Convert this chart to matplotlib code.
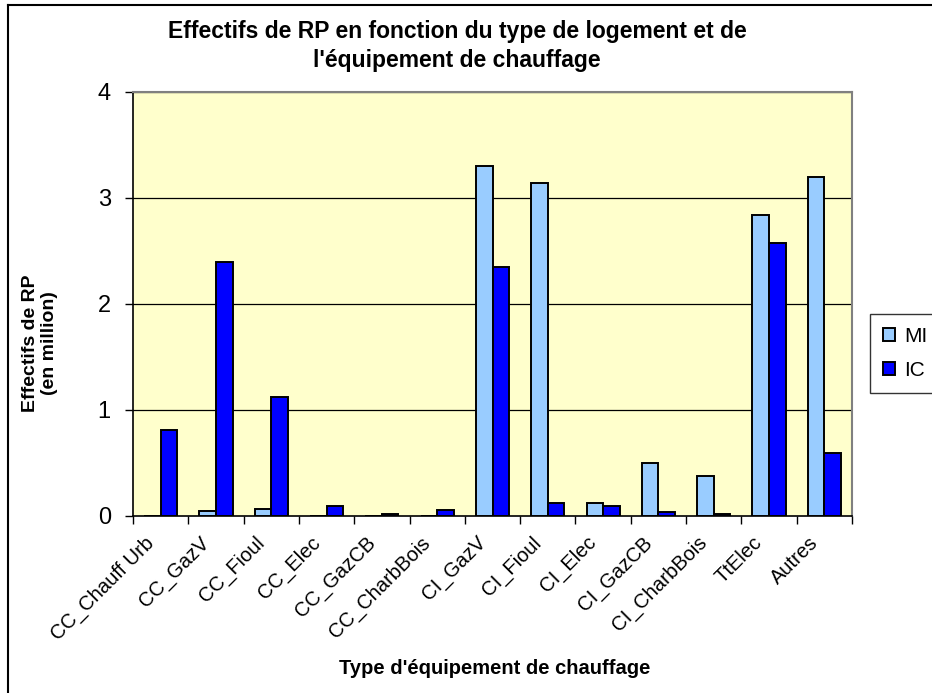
import numpy as np
import matplotlib
matplotlib.use('Agg')
import matplotlib.pyplot as plt
from matplotlib.lines import Line2D

plt.rcParams['font.family'] = ['Liberation Sans', 'DejaVu Sans']

# data (millions of main residences)
categories = ['CC_Chauff Urb', 'CC_GazV', 'CC_Fioul', 'CC_Elec', 'CC_GazCB',
              'CC_CharbBois', 'CI_GazV', 'CI_Fioul', 'CI_Elec', 'CI_GazCB',
              'CI_CharbBois', 'TtElec', 'Autres']
mi = [0.0, 0.05, 0.07, 0.0, 0.0, 0.0, 3.30, 3.14, 0.12, 0.50, 0.38, 2.84, 3.20]
ic = [0.81, 2.40, 1.12, 0.09, 0.02, 0.06, 2.35, 0.125, 0.09, 0.04, 0.02, 2.58, 0.59]
series_names = ['MI', 'IC']
series_colors = ['#99CCFF', '#0000FF']
yticks = [0, 1, 2, 3, 4]

W, H = 932, 693
fig = plt.figure(figsize=(W / 100, H / 100), dpi=100)
ax = fig.add_axes([133 / W, 1 - 516 / H, (852 - 133) / W, (516 - 92) / H])
ax.set_facecolor('#FFFFCC')

x = np.arange(len(categories))
bw = 0.30
for i, (vals, name, col) in enumerate(zip([mi, ic], series_names, series_colors)):
    ax.bar(x + (i - 0.5) * bw, vals, width=bw, color=col, edgecolor='black',
           linewidth=1.4, label=name, zorder=3)

ax.set_xlim(-0.5, len(categories) - 0.5)
ax.set_ylim(0, 4)
ax.set_yticks(yticks)
ax.set_yticklabels([str(v) for v in yticks], fontsize=17)
ax.tick_params(axis='y', direction='out', length=6, width=1, pad=10)
for v in yticks[1:]:
    ax.axhline(v, color='black', linewidth=0.9, zorder=1)

# ticks between categories, labels at category centres
ax.set_xticks(np.arange(len(categories) + 1) - 0.5)
ax.set_xticklabels([])
ax.tick_params(axis='x', which='major', direction='out', length=6, width=1)
ax.set_xticks(x - 0.05, minor=True)
ax.set_xticklabels(categories, minor=True, rotation=45, ha='right',
                   va='bottom', rotation_mode='anchor', fontsize=14.5)
ax.tick_params(axis='x', which='minor', length=0, pad=22)

for s in ['top', 'right']:
    ax.spines[s].set_color('#808080')
    ax.spines[s].set_linewidth(1.5)
for s in ['left', 'bottom']:
    ax.spines[s].set_color('black')
    ax.spines[s].set_linewidth(1.2)

fig.text(457 / W, 1 - 46 / H,
         "Effectifs de RP en fonction du type de logement et de\nl'équipement de chauffage",
         ha='center', va='center', fontsize=16.5, fontweight='bold', linespacing=1.35)
fig.text(40 / W, 1 - 343 / H, 'Effectifs de RP\n(en million)', rotation=90,
         ha='center', va='center', fontsize=14, fontweight='bold', linespacing=1.2)
fig.text(495 / W, 1 - 668 / H, "Type d'équipement de chauffage",
         ha='center', va='center', fontsize=14.5, fontweight='bold')

leg = fig.legend(loc='upper left', bbox_to_anchor=(870 / W, 1 - 314 / H),
                 fontsize=15, frameon=True, fancybox=False, handlelength=0.6,
                 handleheight=0.6, handletextpad=0.45, borderpad=0.6,
                 labelspacing=0.75, borderaxespad=0)
leg.get_frame().set_edgecolor('black')
leg.get_frame().set_linewidth(1)

# outer chart border (left and top edges visible)
fig.add_artist(Line2D([8 / W, 8 / W], [0, 1 - 5 / H], color='black', linewidth=1.5))
fig.add_artist(Line2D([8 / W, 1], [1 - 5 / H, 1 - 5 / H], color='black', linewidth=1.5))

fig.savefig('out.png', dpi=100)
